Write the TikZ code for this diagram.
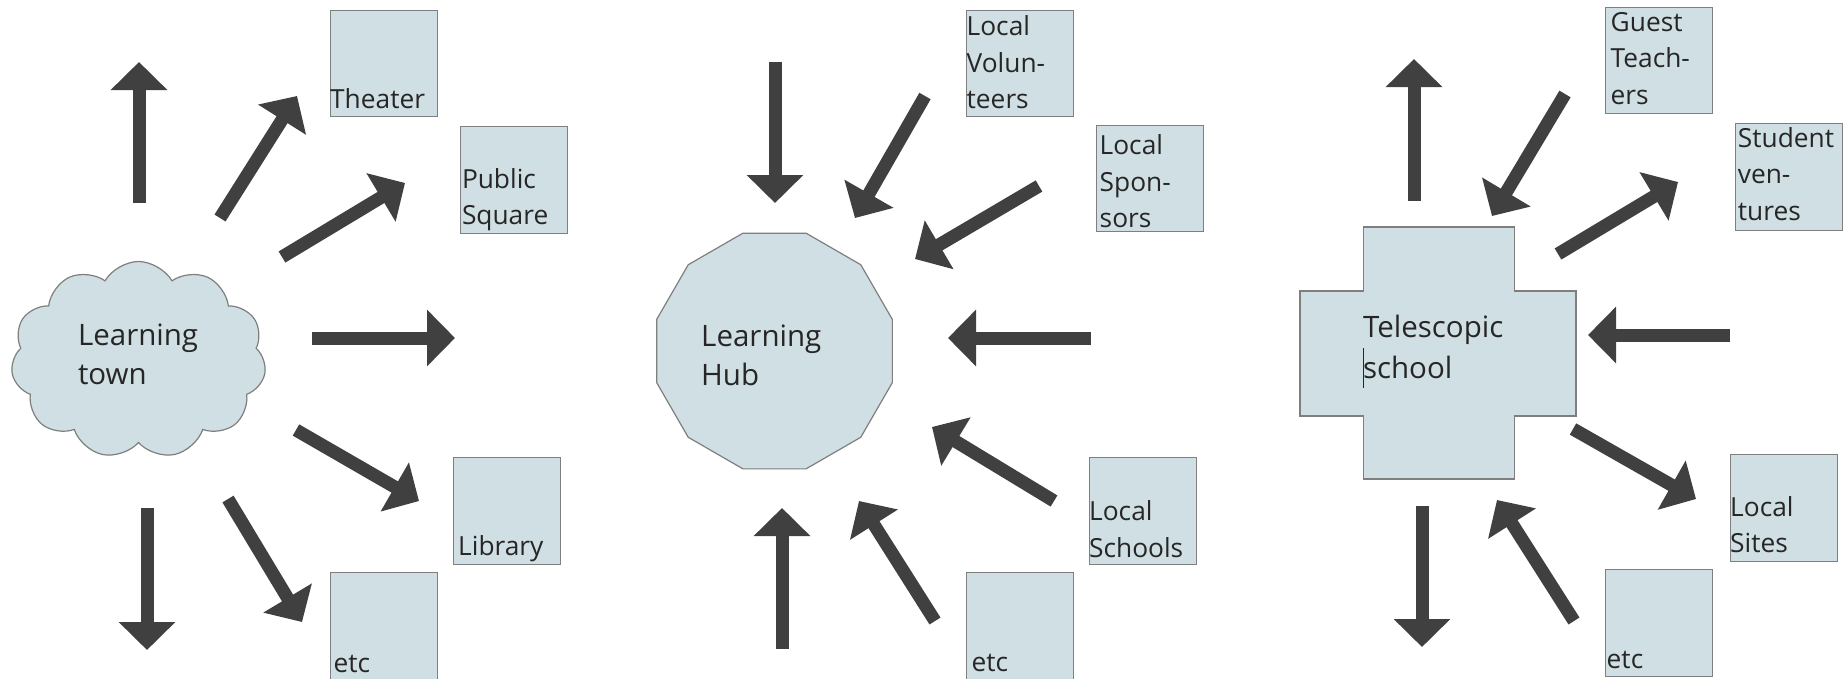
\documentclass[tikz,border=0pt]{standalone}
\usepackage{fontspec}
\setmainfont{Open Sans}
\usetikzlibrary{arrows.meta,shapes.geometric,shapes.symbols}
\definecolor{boxfill}{HTML}{D0DFE3}
\definecolor{boxline}{HTML}{7F7F7F}
\definecolor{arrowgray}{HTML}{404040}
\definecolor{txt}{HTML}{262626}
\begin{document}
\begin{tikzpicture}[x=1pt,y=-1pt,
  place/.style={draw=boxline, fill=boxfill, line width=1.2pt},
  sqbox/.style={place, anchor=north west, inner sep=0pt, minimum width=107pt, minimum height=106.5pt},
  blk/.style={draw=arrowgray, line width=13pt, -{Triangle[width=55pt,length=28pt]}},
  boxtext/.style={anchor=south west, inner sep=0pt, align=left, text=txt, font=\fontsize{26.3}{36.5}\selectfont},
  maintext/.style={anchor=north west, inner sep=0pt, align=left, text=txt, font=\fontsize{29.5}{39}\selectfont},
]
\useasboundingbox (0,0) rectangle (1845,678);
\fill[white] (0,0) rectangle (1845,678);

% ---------- Panel 1 : Learning town ----------
\node[cloud, cloud puffs=11, cloud puff arc=120, aspect=1.3, place, minimum width=255pt, minimum height=197pt, inner sep=0pt] (town) at (138.5,360) {};
\node[maintext] (towntext) at (77.8,318.2) {Learning\strut\\town\strut};

\node[sqbox] (theater) at (330,9.5) {};
\node[sqbox] (public) at (460,126) {};
\node[sqbox] (library) at (453,457) {};
\node[sqbox] (etcA) at (330,572) {};
\node[boxtext] (theatertext) at (330,119.45) {Theater\strut};
\node[boxtext] (publictext) at (461.8,235.95) {Public\strut\\Square\strut};
\node[boxtext] (librarytext) at (458,566.95) {Library\strut};
\node[boxtext] (etcAtext) at (333.5,683.95) {etc\strut};

\coordinate (a1s) at (139,203);   \coordinate (a1e) at (139,62);
\coordinate (a2s) at (220,218);   \coordinate (a2e) at (297,96);
\coordinate (a3s) at (282,257);   \coordinate (a3e) at (405,183);
\coordinate (a4s) at (312,338);   \coordinate (a4e) at (455,338);
\coordinate (a5s) at (296,430);   \coordinate (a5e) at (419,501);
\coordinate (a6s) at (228,499);   \coordinate (a6e) at (302,622);
\coordinate (a7s) at (147,508);   \coordinate (a7e) at (147,650);
\foreach \i in {1,...,7} \draw[blk] (a\i s) -- (a\i e);

% ---------- Panel 2 : Learning Hub ----------
\node[regular polygon, regular polygon sides=12, place, minimum size=244pt, inner sep=0pt] (hub) at (774.5,351) {};
\node[maintext] (hubtext) at (701,318.6) {Learning\strut\\Hub\strut};

\node[sqbox] (volunteers) at (966,9.5) {};
\node[sqbox] (sponsors) at (1095.5,124.5) {};
\node[sqbox] (schools) at (1089,457) {};
\node[sqbox] (etcB) at (966,572) {};
\node[boxtext] (volunteerstext) at (966.5,119.95) {Local\strut\\Volun-\strut\\teers\strut};
\node[boxtext] (sponsorstext) at (1099.5,238.95) {Local\strut\\Spon-\strut\\sors\strut};
\node[boxtext] (schoolstext) at (1089,568.45) {Local\strut\\Schools\strut};
\node[boxtext] (etcBtext) at (971.5,682.95) {etc\strut};

\coordinate (b1s) at (775,62);    \coordinate (b1e) at (775,203);
\coordinate (b2s) at (925,96);    \coordinate (b2e) at (855,218);
\coordinate (b3s) at (1039,186);  \coordinate (b3e) at (915,259);
\coordinate (b4s) at (1091,338);  \coordinate (b4e) at (948,338);
\coordinate (b5s) at (1054,501);  \coordinate (b5e) at (932,427);
\coordinate (b6s) at (935,621);   \coordinate (b6e) at (859,501);
\coordinate (b7s) at (782,649);   \coordinate (b7e) at (782,508);
\foreach \i in {1,...,7} \draw[blk] (b\i s) -- (b\i e);

% ---------- Panel 3 : Telescopic school ----------
\draw[place] (1363.5,227) -- (1514.5,227) -- (1514.5,291) -- (1576,291) -- (1576,416) -- (1514.5,416) -- (1514.5,479) -- (1363.5,479) -- (1363.5,416) -- (1300,416) -- (1300,291) -- (1363.5,291) -- cycle;
\coordinate (school) at (1438,353);
\node[maintext, font=\fontsize{29.5}{41}\selectfont] (schooltext) at (1362.8,308.3) {Telescopic\strut\\school\strut};
\draw[txt, line width=1.3pt] (1363.3,348) -- (1363.3,388);

\node[sqbox] (guest) at (1605,6.5) {};
\node[sqbox] (student) at (1735,123) {};
\node[sqbox] (sites) at (1730,454) {};
\node[sqbox] (etcC) at (1605,569) {};
\node[boxtext] (guesttext) at (1610.5,115.55) {Guest\strut\\Teach-\strut\\ers\strut};
\node[boxtext] (studenttext) at (1737.7,231.45) {Student\strut\\ven-\strut\\tures\strut};
\node[boxtext] (sitestext) at (1730,563.95) {Local\strut\\Sites\strut};
\node[boxtext] (etcCtext) at (1606.5,679.95) {etc\strut};

\coordinate (c1s) at (1414,201);  \coordinate (c1e) at (1414,59);
\coordinate (c2s) at (1565,94);   \coordinate (c2e) at (1492,216);
\coordinate (c3s) at (1558,254);  \coordinate (c3e) at (1678,182);
\coordinate (c4s) at (1730,335);  \coordinate (c4e) at (1588,335);
\coordinate (c5s) at (1573,429);  \coordinate (c5e) at (1696,499);
\coordinate (c6s) at (1574,621);  \coordinate (c6e) at (1497,500);
\coordinate (c7s) at (1422,506);  \coordinate (c7e) at (1422,647);
\foreach \i in {1,...,7} \draw[blk] (c\i s) -- (c\i e);
\end{tikzpicture}
\end{document}
